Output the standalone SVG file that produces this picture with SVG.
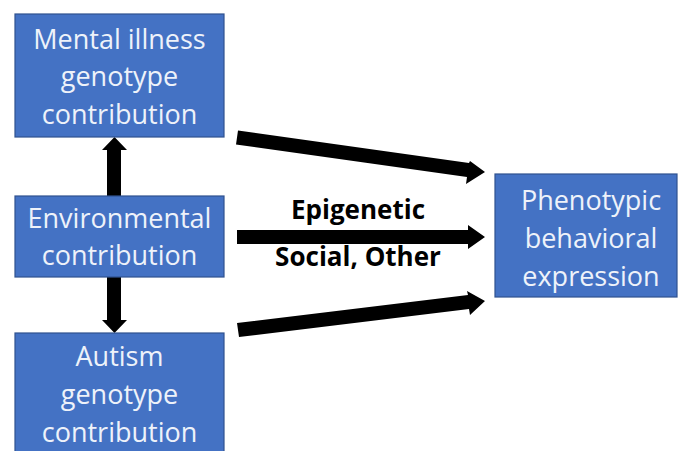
<svg xmlns="http://www.w3.org/2000/svg" width="678" height="451" viewBox="0 0 678 451">
<style>
.box{fill:#4472C4;stroke:#2F528F;stroke-width:1.2}
.bt{font-family:"Open Sans","Liberation Sans",sans-serif;font-size:27px;fill:#EEF2FA;text-anchor:middle;font-variant-ligatures:none}
.lbl{font-family:"Open Sans","Liberation Sans",sans-serif;font-size:26px;font-weight:bold;fill:#000;text-anchor:middle}
.arr{fill:#000}
</style>
<rect width="678" height="451" fill="#fff"/>
<g id="connectors">
<polygon class="arr" points="107,150 102,150 114.5,137 127,150 121,150 121,196 107,196"/>
<polygon class="arr" points="107,277 121,277 121,320 127,320 114.5,333 102,320 107,320"/>
<polygon class="arr" points="238,130.5 236,144.5 467,177 466,184 485,172 470,161 469,163"/>
<polygon class="arr" points="237,230 468,230 468,225 485,237 468,249 468,244 237,244"/>
<polygon class="arr" points="237,323 239,337 469,309 470,315 485,301 467,291 468,295"/>
</g>
<g id="n-mental"><rect class="box" x="15" y="14" width="209" height="123"/>
<text class="bt" x="119.5" y="49">Mental illness</text>
<text class="bt" x="119.5" y="86">genotype</text>
<text class="bt" x="119.5" y="124">contribution</text></g>
<g id="n-env"><rect class="box" x="15" y="196" width="209" height="81"/>
<text class="bt" x="119.5" y="228">Environmental</text>
<text class="bt" x="119.5" y="265">contribution</text></g>
<g id="n-autism"><rect class="box" x="15" y="333" width="209" height="125"/>
<text class="bt" x="119.5" y="366">Autism</text>
<text class="bt" x="119.5" y="404">genotype</text>
<text class="bt" x="119.5" y="442">contribution</text></g>
<g id="n-pheno"><rect class="box" x="495" y="174" width="182" height="123"/>
<text class="bt" x="591" y="210">Phenotypic</text>
<text class="bt" x="591" y="248">behavioral</text>
<text class="bt" x="591" y="286">expression</text></g>
<g id="labels">
<text class="lbl" x="358" y="219">Epigenetic</text>
<text class="lbl" x="358" y="266">Social, Other</text>
</g>
</svg>
